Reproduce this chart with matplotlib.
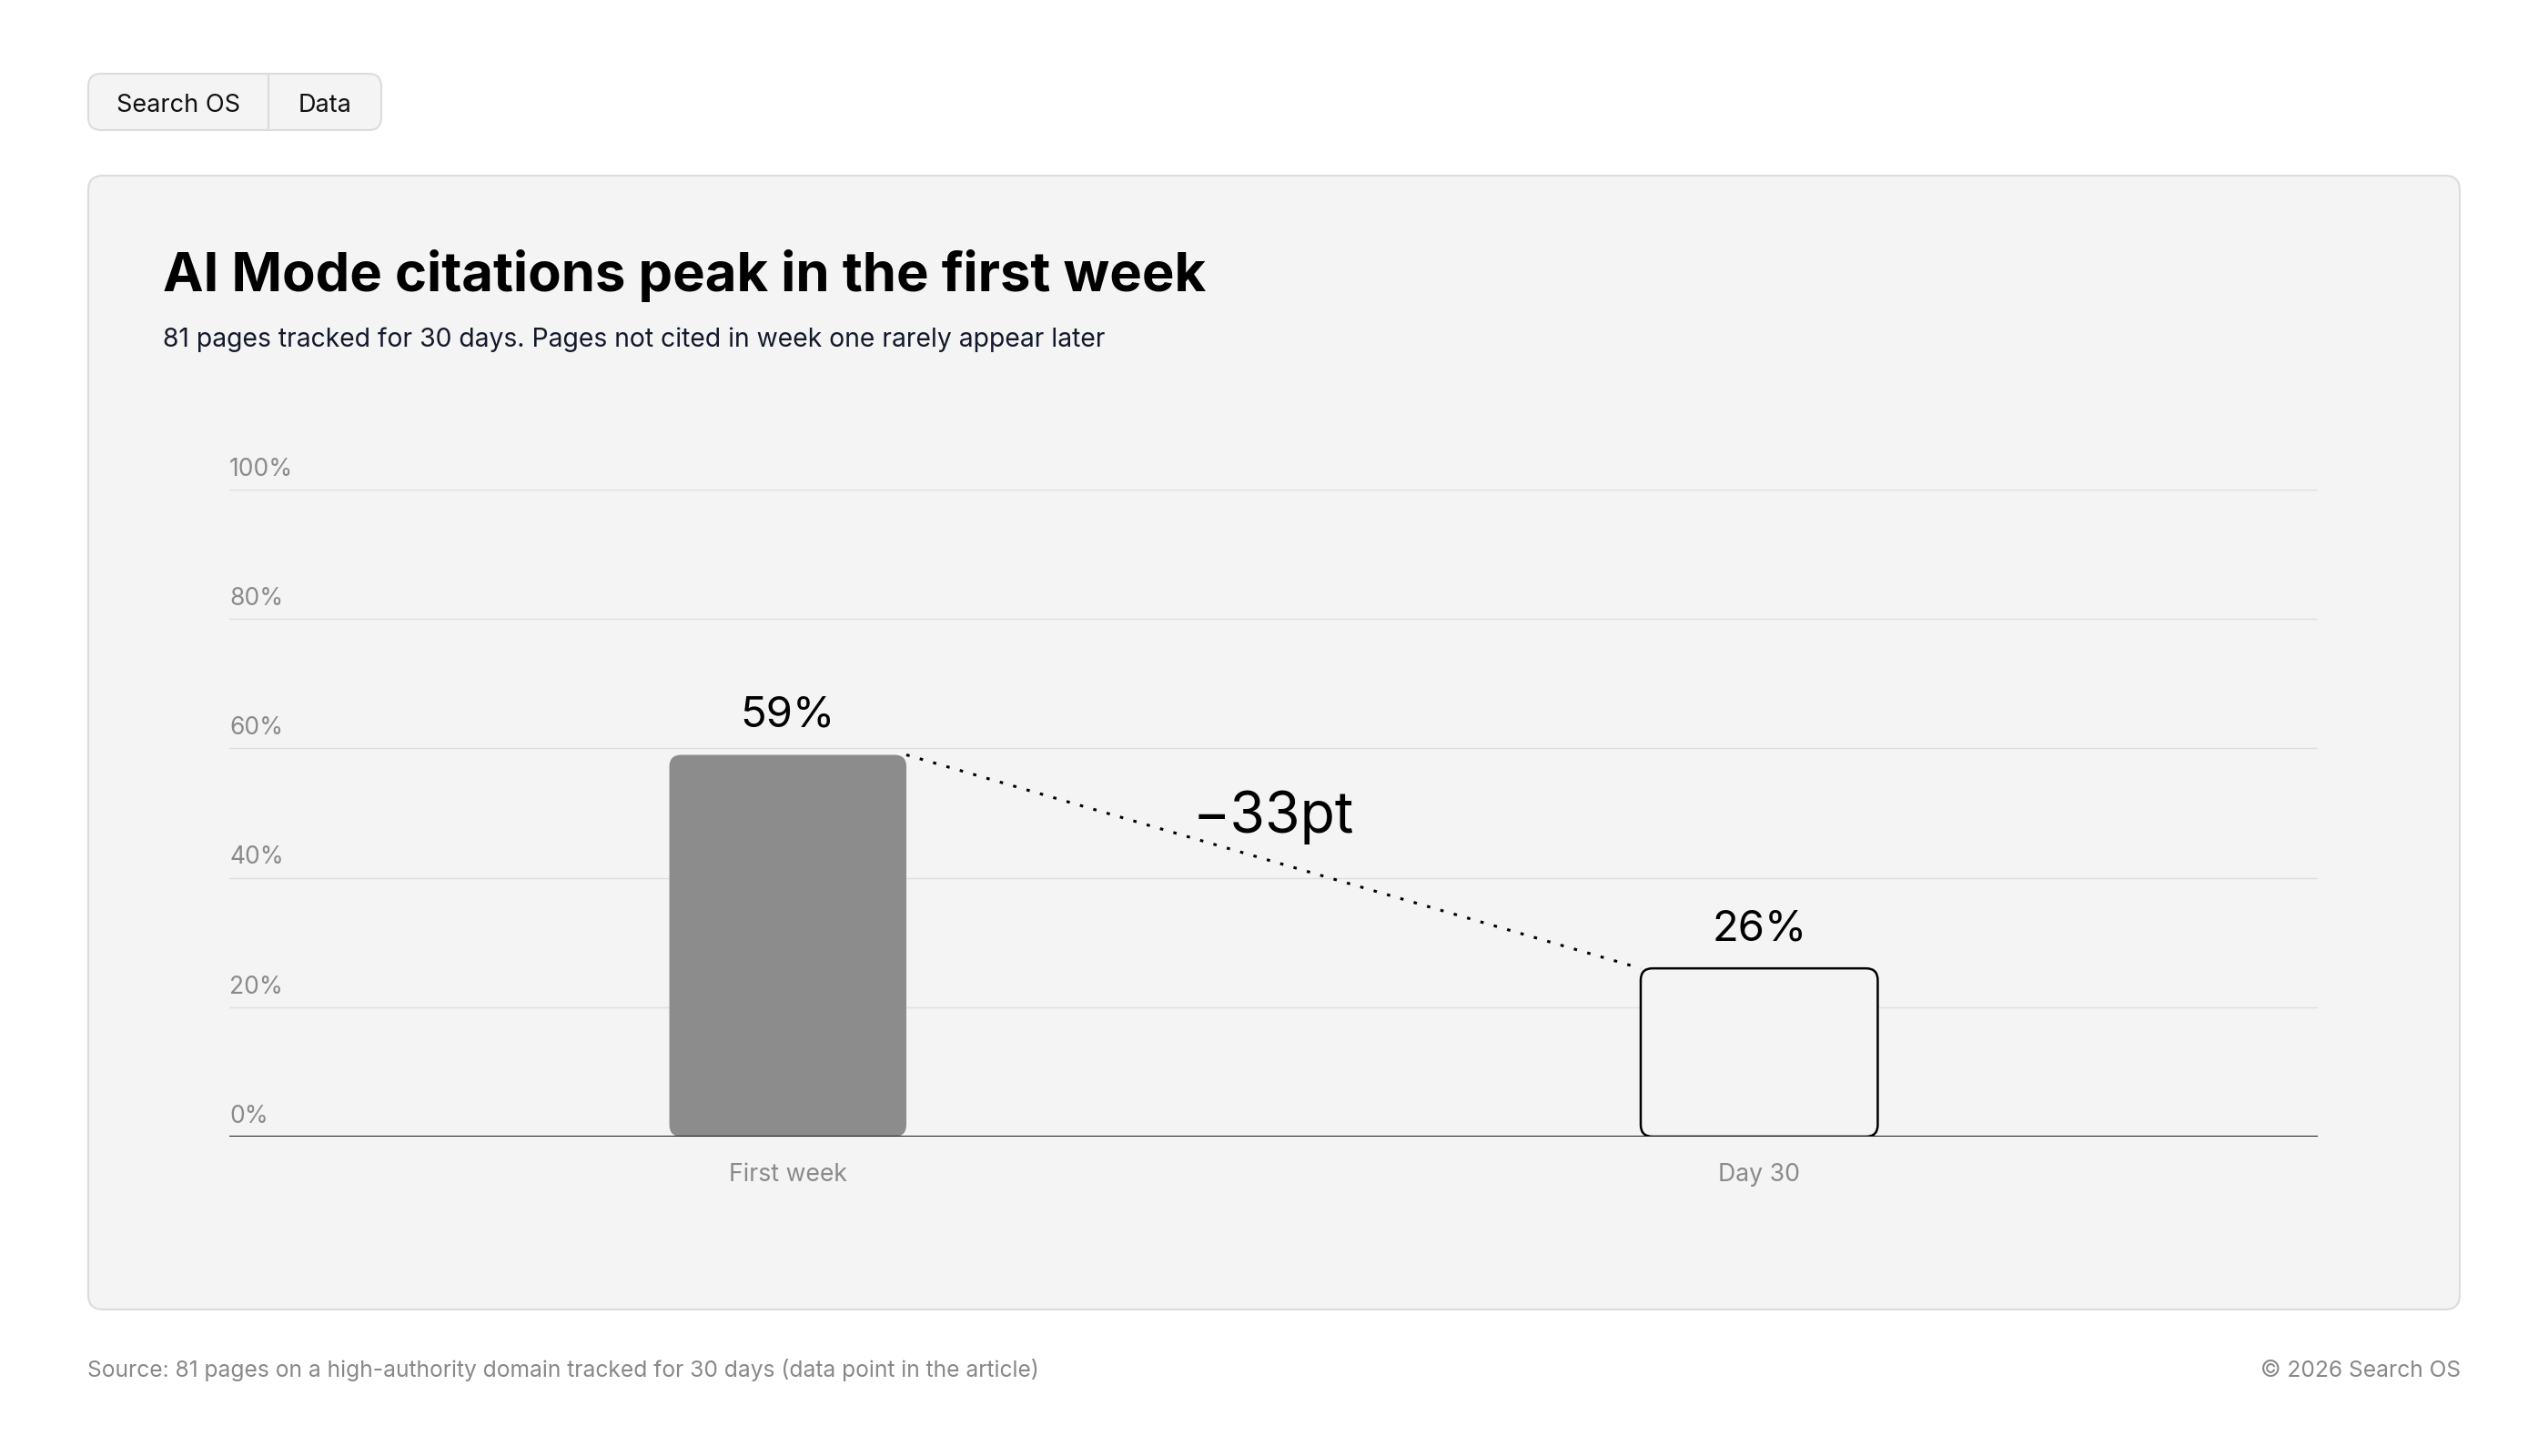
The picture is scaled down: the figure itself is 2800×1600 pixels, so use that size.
import matplotlib.pyplot as plt
import numpy as np
from matplotlib.patches import FancyBboxPatch

plt.rcParams['font.family'] = ['Inter', 'DejaVu Sans']

# data
categories = ['First week', 'Day 30']
values = [59, 26]
diff_label = '\u221233pt'
y_ticks = [0, 20, 40, 60, 80, 100]
y_tick_labels = ['0%', '20%', '40%', '60%', '80%', '100%']

title = 'AI Mode citations peak in the first week'
subtitle = '81 pages tracked for 30 days. Pages not cited in week one rarely appear later'
source = 'Source: 81 pages on a high-authority domain tracked for 30 days (data point in the article)'
copyright_txt = '\u00a9 2026 Search OS'

W, H = 2800, 1600
fig = plt.figure(figsize=(28, 16), dpi=100)
fig.patch.set_facecolor('white')

# background layer in pixel coords (y down)
bg = fig.add_axes([0, 0, 1, 1])
bg.set_xlim(0, W)
bg.set_ylim(H, 0)
bg.axis('off')

card_bg = '#f4f4f4'
border = '#dcdcdc'

# pills
pill = FancyBboxPatch((97, 81), 322, 62, boxstyle='round,pad=0,rounding_size=14',
                      fc=card_bg, ec=border, lw=1.5)
bg.add_patch(pill)
bg.plot([295, 295], [81, 143], color=border, lw=1.5)
bg.text(196, 123, 'Search OS', fontsize=19.5, ha='center', va='baseline', color='#111111')
bg.text(357, 123, 'Data', fontsize=19.5, ha='center', va='baseline', color='#111111')

# card
card = FancyBboxPatch((97, 193), 2606, 1246, boxstyle='round,pad=0,rounding_size=16',
                      fc=card_bg, ec=border, lw=1.5)
bg.add_patch(card)

bg.text(179, 320, title, fontsize=43, fontweight='bold', ha='left', va='baseline', color='#000000')
bg.text(179, 381, subtitle, fontsize=20.4, ha='left', va='baseline', color='#141a2b')

bg.text(96, 1513, source, fontsize=17.7, ha='left', va='baseline', color='#888888')
bg.text(2704, 1513, copyright_txt, fontsize=17.7, ha='right', va='baseline', color='#888888')

# chart
left, right, top, bottom = 252, 2547, 538, 1249
ax = fig.add_axes([left / W, 1 - bottom / H, (right - left) / W, (bottom - top) / H])
ax.set_facecolor('none')
ax.set_xlim(-0.575, 1.575)
ax.set_ylim(0, 100)
for s in ax.spines.values():
    s.set_visible(False)
ax.set_yticks([])

for t in y_ticks[1:]:
    ax.axhline(t, color='#dedede', lw=1.0, zorder=0)
ax.axhline(0, color='#000000', lw=2.0, zorder=3)

for t, lab in zip(y_ticks, y_tick_labels):
    ax.annotate(lab, (0, t), xycoords=('axes fraction', 'data'), xytext=(0, 11),
                textcoords='offset points', ha='left', va='baseline',
                fontsize=19, color='#8a8a8a')

x = np.arange(len(categories))
ax.set_xticks(x)
ax.set_xticklabels(categories, fontsize=19.2, color='#8a8a8a')
ax.tick_params(axis='x', length=0, pad=21)

# rounded bars
bar_w = 0.244
px_x = (right - left) / (ax.get_xlim()[1] - ax.get_xlim()[0])
px_y = (bottom - top) / 100.0
aspect = px_x / px_y
radius = 13 / px_x
styles = [dict(fc='#8c8c8c', ec='none', lw=0), dict(fc=card_bg, ec='#000000', lw=1.8)]
for xi, v, st in zip(x, values, styles):
    p = FancyBboxPatch((xi - bar_w / 2, 0), bar_w, v,
                       boxstyle='round,pad=0,rounding_size=%f' % radius,
                       mutation_aspect=aspect, zorder=2, **st)
    ax.add_patch(p)
    ax.annotate('%d%%' % v, (xi, v), xytext=(0, 22), textcoords='offset points',
                ha='center', va='baseline', fontsize=34, color='#000000')

# dotted connector between bar tops
ax.plot([x[0] + bar_w / 2, x[1] - bar_w / 2], [values[0], values[1]],
        color='#000000', lw=2.2, linestyle=(0, (1.2, 3.8)), zorder=4)
ax.text((x[0] + x[1]) / 2, 47, diff_label, ha='center', va='baseline',
        fontsize=45, color='#000000')

fig.savefig('out.png', dpi=100, facecolor='white')
